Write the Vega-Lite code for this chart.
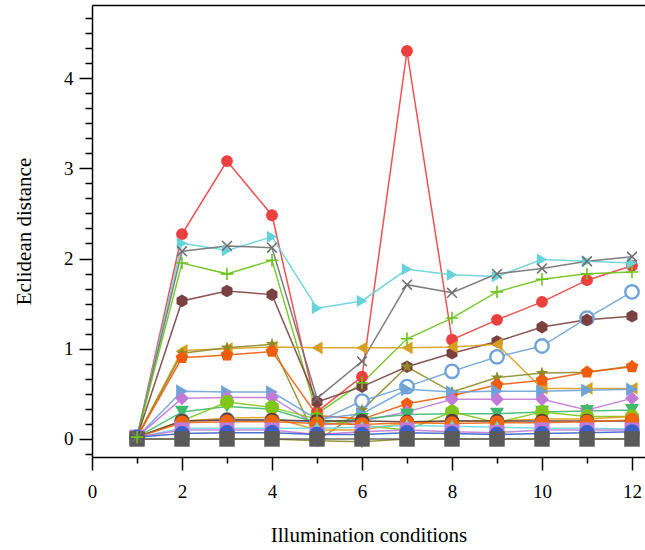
{
  "$schema": "https://vega.github.io/schema/vega-lite/v6.json",
  "width": 553,
  "height": 452,
  "autosize": "none",
  "padding": {"left": 92, "top": 5, "right": 0, "bottom": 93},
  "background": "white",
  "view": {"stroke": null},
  "config": {
    "font": "Liberation Serif",
    "axis": {"labelFont": "Liberation Serif", "titleFont": "Liberation Serif", "labelColor": "black", "titleColor": "black", "titleFontWeight": "normal", "domainColor": "black", "tickColor": "black", "grid": false}
  },
  "data": {"values": [
    {"s":"A","x":1,"y":0.02},{"s":"A","x":2,"y":2.27},{"s":"A","x":3,"y":3.08},{"s":"A","x":4,"y":2.48},{"s":"A","x":5,"y":0.30},{"s":"A","x":6,"y":0.69},{"s":"A","x":7,"y":4.30},{"s":"A","x":8,"y":1.10},{"s":"A","x":9,"y":1.32},{"s":"A","x":10,"y":1.52},{"s":"A","x":11,"y":1.76},{"s":"A","x":12,"y":1.92},
    {"s":"B","x":1,"y":0.02},{"s":"B","x":2,"y":2.17},{"s":"B","x":3,"y":2.09},{"s":"B","x":4,"y":2.24},{"s":"B","x":5,"y":1.45},{"s":"B","x":6,"y":1.53},{"s":"B","x":7,"y":1.88},{"s":"B","x":8,"y":1.82},{"s":"B","x":9,"y":1.80},{"s":"B","x":10,"y":1.99},{"s":"B","x":11,"y":1.97},{"s":"B","x":12,"y":1.95},
    {"s":"C","x":1,"y":0.02},{"s":"C","x":2,"y":2.08},{"s":"C","x":3,"y":2.14},{"s":"C","x":4,"y":2.12},{"s":"C","x":5,"y":0.45},{"s":"C","x":6,"y":0.86},{"s":"C","x":7,"y":1.71},{"s":"C","x":8,"y":1.62},{"s":"C","x":9,"y":1.83},{"s":"C","x":10,"y":1.89},{"s":"C","x":11,"y":1.97},{"s":"C","x":12,"y":2.02},
    {"s":"D","x":1,"y":0.02},{"s":"D","x":2,"y":1.95},{"s":"D","x":3,"y":1.83},{"s":"D","x":4,"y":1.98},{"s":"D","x":5,"y":0.28},{"s":"D","x":6,"y":0.62},{"s":"D","x":7,"y":1.11},{"s":"D","x":8,"y":1.34},{"s":"D","x":9,"y":1.63},{"s":"D","x":10,"y":1.77},{"s":"D","x":11,"y":1.83},{"s":"D","x":12,"y":1.85},
    {"s":"E","x":1,"y":0.02},{"s":"E","x":2,"y":1.53},{"s":"E","x":3,"y":1.64},{"s":"E","x":4,"y":1.60},{"s":"E","x":5,"y":0.41},{"s":"E","x":6,"y":0.58},{"s":"E","x":7,"y":0.80},{"s":"E","x":8,"y":0.95},{"s":"E","x":9,"y":1.08},{"s":"E","x":10,"y":1.24},{"s":"E","x":11,"y":1.32},{"s":"E","x":12,"y":1.36},
    {"s":"F","x":1,"y":0.02},{"s":"F","x":2,"y":0.98},{"s":"F","x":3,"y":1.00},{"s":"F","x":4,"y":1.02},{"s":"F","x":5,"y":1.01},{"s":"F","x":6,"y":1.01},{"s":"F","x":7,"y":1.01},{"s":"F","x":8,"y":1.02},{"s":"F","x":9,"y":1.05},{"s":"F","x":10,"y":0.56},{"s":"F","x":11,"y":0.56},{"s":"F","x":12,"y":0.56},
    {"s":"G","x":1,"y":0.02},{"s":"G","x":2,"y":0.95},{"s":"G","x":3,"y":1.01},{"s":"G","x":4,"y":1.05},{"s":"G","x":5,"y":-0.02},{"s":"G","x":6,"y":0.32},{"s":"G","x":7,"y":0.80},{"s":"G","x":8,"y":0.52},{"s":"G","x":9,"y":0.68},{"s":"G","x":10,"y":0.73},{"s":"G","x":11,"y":0.74},{"s":"G","x":12,"y":0.81},
    {"s":"H","x":1,"y":0.02},{"s":"H","x":2,"y":0.90},{"s":"H","x":3,"y":0.93},{"s":"H","x":4,"y":0.97},{"s":"H","x":5,"y":0.26},{"s":"H","x":6,"y":0.22},{"s":"H","x":7,"y":0.39},{"s":"H","x":8,"y":0.48},{"s":"H","x":9,"y":0.60},{"s":"H","x":10,"y":0.65},{"s":"H","x":11,"y":0.74},{"s":"H","x":12,"y":0.80},
    {"s":"I","x":1,"y":0.02},{"s":"I","x":2,"y":0.20},{"s":"I","x":3,"y":0.21},{"s":"I","x":4,"y":0.21},{"s":"I","x":5,"y":0.19},{"s":"I","x":6,"y":0.42},{"s":"I","x":7,"y":0.58},{"s":"I","x":8,"y":0.75},{"s":"I","x":9,"y":0.91},{"s":"I","x":10,"y":1.03},{"s":"I","x":11,"y":1.34},{"s":"I","x":12,"y":1.63},
    {"s":"J","x":1,"y":0.02},{"s":"J","x":2,"y":0.53},{"s":"J","x":3,"y":0.52},{"s":"J","x":4,"y":0.52},{"s":"J","x":5,"y":0.22},{"s":"J","x":6,"y":0.28},{"s":"J","x":7,"y":0.55},{"s":"J","x":8,"y":0.52},{"s":"J","x":9,"y":0.53},{"s":"J","x":10,"y":0.53},{"s":"J","x":11,"y":0.54},{"s":"J","x":12,"y":0.55},
    {"s":"K","x":1,"y":0.02},{"s":"K","x":2,"y":0.45},{"s":"K","x":3,"y":0.46},{"s":"K","x":4,"y":0.46},{"s":"K","x":5,"y":0.15},{"s":"K","x":6,"y":0.20},{"s":"K","x":7,"y":0.30},{"s":"K","x":8,"y":0.44},{"s":"K","x":9,"y":0.44},{"s":"K","x":10,"y":0.44},{"s":"K","x":11,"y":0.32},{"s":"K","x":12,"y":0.45},
    {"s":"L","x":1,"y":0.02},{"s":"L","x":2,"y":0.30},{"s":"L","x":3,"y":0.36},{"s":"L","x":4,"y":0.33},{"s":"L","x":5,"y":0.18},{"s":"L","x":6,"y":0.22},{"s":"L","x":7,"y":0.27},{"s":"L","x":8,"y":0.28},{"s":"L","x":9,"y":0.28},{"s":"L","x":10,"y":0.30},{"s":"L","x":11,"y":0.31},{"s":"L","x":12,"y":0.32},
    {"s":"M","x":1,"y":0.02},{"s":"M","x":2,"y":0.20},{"s":"M","x":3,"y":0.41},{"s":"M","x":4,"y":0.35},{"s":"M","x":5,"y":0.22},{"s":"M","x":6,"y":0.15},{"s":"M","x":7,"y":0.10},{"s":"M","x":8,"y":0.30},{"s":"M","x":9,"y":0.18},{"s":"M","x":10,"y":0.30},{"s":"M","x":11,"y":0.25},{"s":"M","x":12,"y":0.25},
    {"s":"N","x":1,"y":0.02},{"s":"N","x":2,"y":0.20},{"s":"N","x":3,"y":0.23},{"s":"N","x":4,"y":0.24},{"s":"N","x":5,"y":0.10},{"s":"N","x":6,"y":0.10},{"s":"N","x":7,"y":0.18},{"s":"N","x":8,"y":0.20},{"s":"N","x":9,"y":0.20},{"s":"N","x":10,"y":0.22},{"s":"N","x":11,"y":0.22},{"s":"N","x":12,"y":0.25},
    {"s":"O","x":1,"y":0.02},{"s":"O","x":2,"y":0.20},{"s":"O","x":3,"y":0.21},{"s":"O","x":4,"y":0.21},{"s":"O","x":5,"y":0.20},{"s":"O","x":6,"y":0.20},{"s":"O","x":7,"y":0.19},{"s":"O","x":8,"y":0.20},{"s":"O","x":9,"y":0.20},{"s":"O","x":10,"y":0.20},{"s":"O","x":11,"y":0.20},{"s":"O","x":12,"y":0.20},
    {"s":"P","x":1,"y":0.02},{"s":"P","x":2,"y":0.18},{"s":"P","x":3,"y":0.19},{"s":"P","x":4,"y":0.19},{"s":"P","x":5,"y":0.17},{"s":"P","x":6,"y":0.16},{"s":"P","x":7,"y":0.18},{"s":"P","x":8,"y":0.17},{"s":"P","x":9,"y":0.18},{"s":"P","x":10,"y":0.18},{"s":"P","x":11,"y":0.19},{"s":"P","x":12,"y":0.21},
    {"s":"Q","x":1,"y":0.02},{"s":"Q","x":2,"y":0.12},{"s":"Q","x":3,"y":0.12},{"s":"Q","x":4,"y":0.12},{"s":"Q","x":5,"y":0.12},{"s":"Q","x":6,"y":0.13},{"s":"Q","x":7,"y":0.15},{"s":"Q","x":8,"y":0.14},{"s":"Q","x":9,"y":0.13},{"s":"Q","x":10,"y":0.12},{"s":"Q","x":11,"y":0.12},{"s":"Q","x":12,"y":0.11},
    {"s":"R","x":1,"y":0.02},{"s":"R","x":2,"y":0.10},{"s":"R","x":3,"y":0.10},{"s":"R","x":4,"y":0.10},{"s":"R","x":5,"y":0.05},{"s":"R","x":6,"y":0.08},{"s":"R","x":7,"y":0.10},{"s":"R","x":8,"y":0.08},{"s":"R","x":9,"y":0.07},{"s":"R","x":10,"y":0.10},{"s":"R","x":11,"y":0.10},{"s":"R","x":12,"y":0.10},
    {"s":"S","x":1,"y":0.02},{"s":"S","x":2,"y":0.06},{"s":"S","x":3,"y":0.07},{"s":"S","x":4,"y":0.07},{"s":"S","x":5,"y":0.05},{"s":"S","x":6,"y":0.05},{"s":"S","x":7,"y":0.07},{"s":"S","x":8,"y":0.06},{"s":"S","x":9,"y":0.05},{"s":"S","x":10,"y":0.06},{"s":"S","x":11,"y":0.07},{"s":"S","x":12,"y":0.08},
    {"s":"U","x":1,"y":0.0},{"s":"U","x":2,"y":0.0},{"s":"U","x":3,"y":0.0},{"s":"U","x":4,"y":0.0},{"s":"U","x":5,"y":-0.02},{"s":"U","x":6,"y":-0.03},{"s":"U","x":7,"y":0.0},{"s":"U","x":8,"y":0.0},{"s":"U","x":9,"y":0.0},{"s":"U","x":10,"y":0.0},{"s":"U","x":11,"y":0.0},{"s":"U","x":12,"y":0.0},
    {"s":"T","x":1,"y":0.0},{"s":"T","x":2,"y":0.0},{"s":"T","x":3,"y":0.0},{"s":"T","x":4,"y":0.0},{"s":"T","x":5,"y":0.0},{"s":"T","x":6,"y":0.0},{"s":"T","x":7,"y":0.0},{"s":"T","x":8,"y":0.0},{"s":"T","x":9,"y":0.0},{"s":"T","x":10,"y":0.0},{"s":"T","x":11,"y":0.0},{"s":"T","x":12,"y":0.0}
  ]},
  "resolve": {"axis": {"x": "independent"}},
  "layer": [
    {
      "mark": {"type": "line", "strokeWidth": 1.5, "opacity": 0.9},
      "encoding": {
        "x": {"field": "x", "type": "quantitative", "scale": {"domain": [0, 12.289], "nice": false, "zero": false},
          "axis": {"orient": "bottom", "title": "Illumination conditions", "values": [0,1,2,3,4,5,6,7,8,9,10,11,12], "tickCount": 40,
            "labelExpr": "datum.value % 2 === 0 ? format(datum.value, 'd') : ''", "labelFlush": false, "labelOverlap": false,
            "tickSize": {"condition": {"test": "datum.value % 2 === 0", "value": 13}, "value": 6},
            "tickWidth": 1.5, "domainWidth": 1.5, "labelFontSize": 19, "labelPadding": 12, "titleFontSize": 21, "titlePadding": 23}},
        "y": {"field": "y", "type": "quantitative", "scale": {"domain": [-0.2, 4.81], "nice": false, "zero": false},
          "axis": {"title": "Eclidean distance", "tickCount": 60,
            "values": [-0.16667,0,0.16667,0.33333,0.5,0.66667,0.83333,1,1.16667,1.33333,1.5,1.66667,1.83333,2,2.16667,2.33333,2.5,2.66667,2.83333,3,3.16667,3.33333,3.5,3.66667,3.83333,4,4.16667,4.33333,4.5,4.66667],
            "labelExpr": "abs(datum.value - round(datum.value)) < 0.01 ? format(datum.value, 'd') : ''", "labelOverlap": false, "labelFlush": false,
            "tickSize": {"condition": {"test": "abs(datum.value - round(datum.value)) < 0.01", "value": 13}, "value": 7},
            "tickWidth": 1.5, "domainWidth": 1.5, "labelFontSize": 19, "labelPadding": 6, "titleFontSize": 21, "titlePadding": 29}},
        "color": {"field": "s", "type": "nominal", "legend": null,
          "scale": {"domain": ["A","B","C","D","E","F","G","H","I","J","K","L","M","N","O","P","Q","R","S","U","T"],
            "range": ["#ec3f3f","#66d2d9","#707070","#6dc21c","#7b4141","#d69f1f","#8f8b2b","#f05b0c","#6fa3d8","#6fa3d8","#c27ad8","#3dba6b","#80c61a","#e09b12","#5b3b3b","#f0650f","#70d6dc","#c07ad8","#3a60c8","#8f8b2b","#5a5a5a"]}},
        "detail": {"field": "s"}
      }
    },
    {
      "transform": [{"filter": {"field": "s", "equal": "I"}}],
      "mark": {"type": "point", "filled": false, "fill": "white", "fillOpacity": 1, "strokeWidth": 2.4, "opacity": 1},
      "encoding": {
        "x": {"field": "x", "type": "quantitative", "axis": {"orient": "top", "ticks": false, "labels": false, "title": null, "domainWidth": 1.5, "domainColor": "black"}},
        "y": {"field": "y", "type": "quantitative"},
        "color": {"field": "s", "type": "nominal", "legend": null},
        "shape": {"field": "s", "type": "nominal", "legend": null,
          "scale": {"domain": ["A","B","C","D","E","F","G","H","I","J","K","L","M","N","O","P","Q","R","S","U","T"],
            "range": ["circle","triangle-right","M-0.8,-0.8L0.8,0.8M-0.8,0.8L0.8,-0.8","M-1,0L1,0M0,-1L0,1","M0,-1L0.866,-0.5L0.866,0.5L0,1L-0.866,0.5L-0.866,-0.5Z","triangle-left","M0,-1L0.247,-0.34L0.951,-0.309L0.399,0.13L0.588,0.809L0,0.42L-0.588,0.809L-0.399,0.13L-0.951,-0.309L-0.247,-0.34Z","M0,-1L0.951,-0.309L0.588,0.809L-0.588,0.809L-0.951,-0.309Z","circle","triangle-right","diamond","triangle-down","circle","triangle-up","circle","circle","triangle-up","square","circle","triangle-down","square"]}},
        "size": {"field": "s", "type": "nominal", "legend": null,
          "scale": {"domain": ["A","B","C","D","E","F","G","H","I","J","K","L","M","N","O","P","Q","R","S","U","T"],
            "range": [140,240,190,190,190,240,270,200,100,240,170,220,140,200,20,20,70,120,20,200,120]}}
      }
    },
    {
      "transform": [{"filter": {"not": {"field": "s", "oneOf": ["C","D","I"]}}}],
      "mark": {"type": "point", "filled": true, "opacity": 1},
      "encoding": {
        "x": {"field": "x", "type": "quantitative", "axis": null},
        "y": {"field": "y", "type": "quantitative"},
        "color": {"field": "s", "type": "nominal", "legend": null},
        "shape": {"field": "s", "type": "nominal", "legend": null},
        "size": {"field": "s", "type": "nominal", "legend": null}
      }
    },
    {
      "transform": [{"filter": {"field": "s", "oneOf": ["C","D"]}}],
      "mark": {"type": "point", "filled": false, "strokeWidth": 1.6, "opacity": 1},
      "encoding": {
        "x": {"field": "x", "type": "quantitative", "axis": null},
        "y": {"field": "y", "type": "quantitative"},
        "color": {"field": "s", "type": "nominal", "legend": null},
        "shape": {"field": "s", "type": "nominal", "legend": null},
        "size": {"field": "s", "type": "nominal", "legend": null}
      }
    }
  ]
}
